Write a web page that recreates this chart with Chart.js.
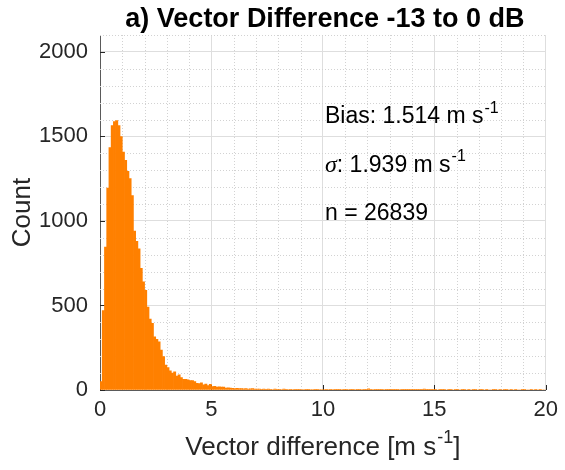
<!DOCTYPE html>
<html>
<head>
<meta charset="utf-8">
<script src="https://cdn.jsdelivr.net/npm/chart.js@4"></script>
<style>
  html, body { margin: 0; padding: 0; background: #fff; }
  #wrap { width: 565px; height: 470px; }
</style>
</head>
<body>
<div id="wrap"><canvas id="hist" width="565" height="470"></canvas></div>
<script>
// histogram of vector differences, 0.1 m/s bins from 0 to 20
const binWidth = 0.1;
const counts = [
    50, 470, 846, 1194, 1434, 1564, 1588, 1594, 1564, 1499,
    1407, 1358, 1293, 1251, 1150, 940, 880, 835, 720, 640,
    590, 490, 420, 395, 315, 300, 285, 236, 197, 148,
    132, 114, 100, 108, 83, 89, 73, 63, 63, 60,
    55, 55, 50, 39, 38, 43, 30, 35, 26, 33,
    20, 21, 18, 19, 17, 18, 12, 13, 11, 10,
    9, 10, 8, 9, 7, 8, 6, 7, 9, 6,
    5, 6, 4, 5, 4, 6, 4, 3, 5, 4,
    4, 3, 5, 4, 3, 4, 3, 4, 2, 4,
    3, 3, 4, 2, 3, 3, 4, 2, 3, 3,
    3, 2, 3, 2, 3, 4, 2, 2, 3, 2,
    2, 3, 2, 1, 3, 2, 2, 3, 2, 2,
    7, 2, 3, 2, 1, 2, 2, 3, 1, 2,
    2, 1, 2, 2, 3, 1, 2, 1, 2, 1,
    2, 2, 1, 2, 1, 6, 1, 2, 1, 1,
    1, 0, 1, 2, 1, 0, 1, 1, 0, 2,
    1, 0, 1, 1, 0, 1, 0, 1, 2, 0,
    1, 1, 0, 1, 0, 0, 1, 1, 0, 1,
    0, 1, 1, 0, 1, 0, 1, 0, 0, 1,
    1, 0, 0, 1, 0, 1, 0, 1, 0, 0
];
const xTicks = [0, 5, 10, 15, 20];
const yTicks = [0, 500, 1000, 1500, 2000];
const xMinorStep = 1;
const yMinorStep = 100;
const xRange = [0, 20];
const yRange = [0, 2100];

const stats = [
    { label: 'Bias: ', value: '1.514', unit: true },
    { label: 'σ', value: ': 1.939', unit: true },
    { label: 'n = ', value: '26839', unit: false }
];

const FONT = '"Liberation Sans", Arial, Helvetica, sans-serif';
const AXIS_COLOR = '#262626';

// text with an optional "-1" exponent after it
function drawSupText(ctx, pieces, x, y, size, align) {
    const widths = pieces.map(p => {
        ctx.font = p.font || `${p.sup ? Math.round(size * 0.68) : size}px ${FONT}`;
        return ctx.measureText(p.t).width + (p.sup ? 1 : 0);
    });
    const total = widths.reduce((a, b) => a + b, 0);
    let cx = align === 'center' ? x - total / 2 : x;
    ctx.textAlign = 'left';
    ctx.textBaseline = 'alphabetic';
    pieces.forEach((p, i) => {
        ctx.font = p.font || `${p.sup ? Math.round(size * 0.68) : size}px ${FONT}`;
        ctx.fillText(p.t, cx + (p.sup ? 1 : 0), p.sup ? y - size * 0.45 : y);
        cx += widths[i];
    });
}

const decorations = {
    id: 'decorations',
    beforeDatasetsDraw(chart) {
        const { ctx, chartArea: a, scales: { x, y } } = chart;
        ctx.save();
        // dotted minor grid
        ctx.strokeStyle = '#d2d2d2';
        ctx.lineWidth = 1;
        ctx.setLineDash([1, 2]);
        ctx.beginPath();
        for (let v = xRange[0]; v <= xRange[1]; v += xMinorStep) {
            if (xTicks.includes(v)) continue;
            const px = Math.round(x.getPixelForValue(v)) + 0.5;
            ctx.moveTo(px, a.top);
            ctx.lineTo(px, a.bottom);
        }
        for (let v = yRange[0]; v <= yRange[1]; v += yMinorStep) {
            if (yTicks.includes(v)) continue;
            const py = Math.round(y.getPixelForValue(v)) + 0.5;
            ctx.moveTo(a.left, py);
            ctx.lineTo(a.right, py);
        }
        ctx.stroke();
        ctx.setLineDash([]);
        // inward tick marks
        ctx.strokeStyle = AXIS_COLOR;
        ctx.beginPath();
        yTicks.forEach(v => {
            const py = Math.round(y.getPixelForValue(v)) + 0.5;
            ctx.moveTo(a.left, py);
            ctx.lineTo(a.left + 5, py);
        });
        xTicks.forEach(v => {
            const px = Math.round(x.getPixelForValue(v)) + 0.5;
            ctx.moveTo(px, a.bottom);
            ctx.lineTo(px, a.bottom - 5);
        });
        ctx.stroke();
        ctx.restore();
    },
    afterDraw(chart) {
        const { ctx, chartArea: a } = chart;
        const midX = (a.left + a.right) / 2;
        ctx.save();
        ctx.fillStyle = '#000';
        ctx.textAlign = 'center';
        ctx.textBaseline = 'alphabetic';
        ctx.font = `bold 27px ${FONT}`;
        ctx.fillText('a) Vector Difference -13 to 0 dB', midX + 2, 27);

        ctx.fillStyle = AXIS_COLOR;
        drawSupText(ctx, [{ t: 'Vector difference [m s' }, { t: '-1', sup: true }, { t: ']' }], midX, 455, 26, 'center');

        ctx.save();
        ctx.translate(30, (a.top + a.bottom) / 2);
        ctx.rotate(-Math.PI / 2);
        ctx.textAlign = 'center';
        ctx.font = `26px ${FONT}`;
        ctx.fillText('Count', 0, 0);
        ctx.restore();

        ctx.fillStyle = '#000';
        stats.forEach((s, i) => {
            const pieces = [];
            if (s.label === 'σ') {
                pieces.push({ t: 'σ', font: `italic 24px "Liberation Serif", serif` });
            } else {
                pieces.push({ t: s.label });
            }
            pieces.push({ t: s.value + (s.unit ? ' m s' : '') });
            if (s.unit) pieces.push({ t: '-1', sup: true });
            drawSupText(ctx, pieces, 325, 123 + i * 48.5, 23, 'left');
        });
        ctx.restore();
    }
};

new Chart(document.getElementById('hist'), {
    type: 'bar',
    data: {
        datasets: [{
            data: counts.map((c, i) => ({ x: (i + 0.5) * binWidth, y: c })),
            backgroundColor: '#ff8000',
            borderWidth: 0,
            barPercentage: 1,
            categoryPercentage: 1,
            grouped: false
        }]
    },
    options: {
        responsive: false,
        animation: false,
        devicePixelRatio: 1,
        layout: { padding: { top: 35, right: 17, left: 0, bottom: 0 } },
        plugins: { legend: { display: false }, tooltip: { enabled: false } },
        scales: {
            x: {
                type: 'linear',
                offset: false,
                min: xRange[0],
                max: xRange[1],
                afterBuildTicks: s => { s.ticks = xTicks.map(v => ({ value: v })); },
                afterFit: s => { s.height = 80; },
                grid: { color: '#dedede', drawTicks: false, offset: false },
                border: { color: '#5a5a5a', width: 1 },
                ticks: {
                    padding: 7,
                    color: AXIS_COLOR,
                    maxRotation: 0,
                    callback: v => String(v),
                    font: { family: FONT, size: 22 }
                }
            },
            y: {
                min: yRange[0],
                max: yRange[1],
                afterBuildTicks: s => { s.ticks = yTicks.map(v => ({ value: v })); },
                afterFit: s => { s.width = 100; },
                grid: { color: '#dedede', drawTicks: false },
                border: { color: '#5a5a5a', width: 1 },
                ticks: {
                    padding: 12,
                    color: AXIS_COLOR,
                    callback: v => String(v),
                    font: { family: FONT, size: 22 }
                }
            }
        }
    },
    plugins: [decorations]
});
</script>
</body>
</html>
